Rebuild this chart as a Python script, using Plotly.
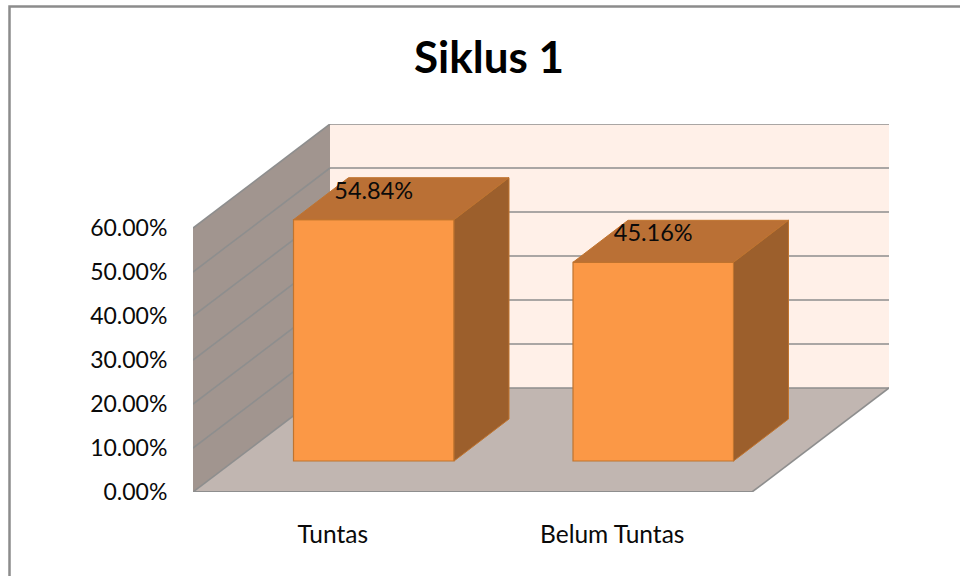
import plotly.graph_objects as go

categories = ["Tuntas", "Belum Tuntas"]
values = [0.5484, 0.4516]
value_labels = ["54.84%", "45.16%"]
y_ticks = [0, 0.1, 0.2, 0.3, 0.4, 0.5, 0.6]
y_tick_labels = ["0.00%", "10.00%", "20.00%", "30.00%", "40.00%", "50.00%", "60.00%"]

W, H = 960, 576
L, R, T, B = 193, 889, 124, 492
CAT_PX = 279.5
PCT_PX = 440.0
X0 = -0.5
X1 = X0 + (R - L) / CAT_PX
Y1 = (B - T) / PCT_PX

# projection offsets in axis units
floor_dx, floor_dy = 137 / CAT_PX, 104 / PCT_PX
bar_dx, bar_dy = 55 / CAT_PX, 42 / PCT_PX
bar_shift = 41 / CAT_PX
bar_base = 31 / PCT_PX
bar_w = 160.5 / CAT_PX
label_lift = 27 / PCT_PX

xs = [i for i in range(len(categories))]
ymax = y_ticks[-1]
xl, xr = X0, X0 + 559 / CAT_PX

FONT = "Lato, Carlito, Calibri, sans-serif"
WALL = "#FFF0E8"
SIDE = "#A1958F"
FLOOR = "#C1B6B1"
GRID = "#8E8E8E"
FRONT = "#FB9846"
TOP = "#BA7035"
RIGHT = "#9C5F2C"
EDGE = "#C0742F"
INK = "#0A0A0A"


def path(pts):
    return "M " + " L ".join(f"{x},{y}" for x, y in pts) + " Z"


def fx(px):
    return (px - L) / (R - L)


def fy(px):
    return (B - px) / (B - T)


shapes = [
    dict(type="path", xref="x", yref="y", layer="below", fillcolor=WALL, line_width=0,
         path=path([(xl + floor_dx, floor_dy), (xr + floor_dx, floor_dy),
                    (xr + floor_dx, ymax + floor_dy), (xl + floor_dx, ymax + floor_dy)])),
    dict(type="path", xref="x", yref="y", layer="below", fillcolor=SIDE, line_width=0,
         path=path([(xl, 0), (xl + floor_dx, floor_dy),
                    (xl + floor_dx, ymax + floor_dy), (xl, ymax)])),
    dict(type="path", xref="x", yref="y", layer="below", fillcolor=FLOOR, line_width=0,
         path=path([(xl, 0), (xr, 0), (xr + floor_dx, floor_dy), (xl + floor_dx, floor_dy)])),
]
for t in y_ticks:
    shapes.append(dict(type="line", xref="x", yref="y", layer="below",
                       x0=xl, y0=t, x1=xl + floor_dx, y1=t + floor_dy,
                       line=dict(color=GRID, width=1.6)))
    shapes.append(dict(type="line", xref="x", yref="y", layer="below",
                       x0=xl + floor_dx, y0=t + floor_dy, x1=xr + floor_dx, y1=t + floor_dy,
                       line=dict(color=GRID, width=1.6)))
shapes.append(dict(type="line", xref="x", yref="y", layer="below", x0=xl, y0=0, x1=xr, y1=0,
                   line=dict(color=GRID, width=2)))
shapes.append(dict(type="line", xref="x", yref="y", layer="below", x0=xr, y0=0,
                   x1=xr + floor_dx, y1=floor_dy, line=dict(color=GRID, width=1.6)))
# outer chart frame: only the left and top sides are visible
shapes.append(dict(type="path", xref="paper", yref="paper", layer="below",
                   path=f"M {fx(9.5)},{fy(H)} L {fx(9.5)},{fy(6.5)} L {fx(W)},{fy(6.5)}",
                   line=dict(color="#8C8C8C", width=2.5)))

fig = go.Figure()
fig.add_trace(go.Bar(
    x=[x + bar_shift for x in xs], y=values, base=bar_base, width=bar_w,
    marker=dict(color=FRONT, line=dict(color=EDGE, width=1.2)),
    hoverinfo="skip", showlegend=False))

for x, v in zip(xs, values):
    a = x + bar_shift - bar_w / 2
    b = x + bar_shift + bar_w / 2
    top = bar_base + v
    fig.add_trace(go.Scatter(
        x=[a, b, b + bar_dx, a + bar_dx, a], y=[top, top, top + bar_dy, top + bar_dy, top],
        mode="lines", fill="toself", fillcolor=TOP, line=dict(color=EDGE, width=1),
        hoverinfo="skip", showlegend=False))
    fig.add_trace(go.Scatter(
        x=[b, b + bar_dx, b + bar_dx, b, b],
        y=[bar_base, bar_base + bar_dy, top + bar_dy, top, bar_base],
        mode="lines", fill="toself", fillcolor=RIGHT, line=dict(color=EDGE, width=1),
        hoverinfo="skip", showlegend=False))

fig.add_trace(go.Scatter(
    x=[x + bar_shift for x in xs], y=[bar_base + v + label_lift for v in values],
    text=value_labels, mode="text", textposition="middle center",
    textfont=dict(family=FONT, size=23.5, color=INK),
    hoverinfo="skip", showlegend=False, cliponaxis=False))

fig.update_layout(
    width=W, height=H, autosize=False,
    margin=dict(l=L, r=W - R, t=T, b=H - B),
    paper_bgcolor="white", plot_bgcolor="rgba(0,0,0,0)",
    font=dict(family=FONT, size=23, color=INK),
    title=dict(text="<b>Siklus 1</b>", x=489 / W, y=1 - 58 / H, xanchor="center", yanchor="middle",
               xref="container", yref="container",
               font=dict(family=FONT, size=44, color="#000000")),
    shapes=shapes,
    xaxis=dict(range=[X0, X1], tickmode="array", tickvals=xs, ticktext=categories,
               showgrid=False, zeroline=False, showline=False,
               ticks="outside", ticklen=21, tickcolor="rgba(0,0,0,0)",
               tickfont=dict(family=FONT, size=24.5, color=INK)),
    yaxis=dict(range=[0, Y1], tickmode="array", tickvals=y_ticks, ticktext=y_tick_labels,
               showgrid=False, zeroline=False, showline=False,
               ticks="outside", ticklen=20, tickcolor="rgba(0,0,0,0)",
               tickfont=dict(family=FONT, size=23, color=INK)),
)
fig.write_html("out.html", config={"displayModeBar": False},
               post_script="document.body.style.margin='0';")
